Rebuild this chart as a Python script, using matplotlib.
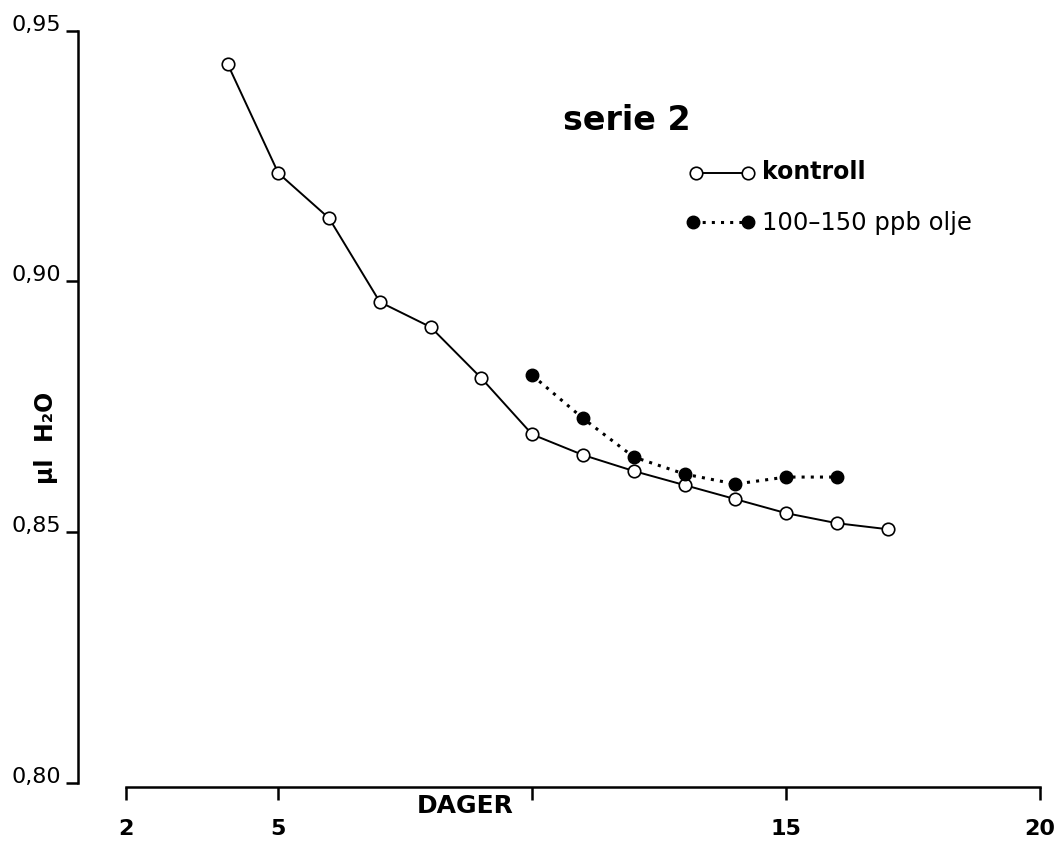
import matplotlib
matplotlib.use('Agg')
import matplotlib.pyplot as plt

# values (days, µl H2O)
dager_kontroll = [4, 5, 6, 7, 8, 9, 10, 11, 12, 13, 14, 15, 16, 17]
kontroll = [0.9434, 0.9216, 0.9126, 0.8959, 0.8909, 0.8807, 0.8695,
            0.8654, 0.8622, 0.8594, 0.8566, 0.8538, 0.8518, 0.8506]

dager_olje = [10, 11, 12, 13, 14, 15, 16]
olje = [0.8813, 0.8727, 0.8650, 0.8616, 0.8596, 0.8610, 0.8610]

xticks = [2, 5, 10, 15, 20]
xticklabels = ['2', '5', '', '15', '20']
yticks = [0.80, 0.85, 0.90, 0.95]
yticklabels = ['0,80', '0,85', '0,90', '0,95']

plt.rcParams['font.family'] = ['DejaVu Sans']

fig = plt.figure(figsize=(10.59, 8.41), dpi=100)
ax = fig.add_axes([78 / 1059, 54 / 841, 962 / 1059, 756.3 / 841])

# curves
ax.plot(dager_kontroll, kontroll, color='black', lw=1.4, marker='o', ms=9,
        mfc='white', mec='black', mew=1.2, clip_on=False, zorder=3)
ax.plot(dager_olje, olje, color='black', lw=2.2, ls=(0, (1, 2)),
        marker='o', ms=9, mfc='black', mec='black', clip_on=False, zorder=4)

ax.set_xlim(1.055, 20.0)
ax.set_ylim(0.7992, 0.95)

# axes styling
for s in ['top', 'right']:
    ax.spines[s].set_visible(False)
ax.spines['left'].set_linewidth(1.8)
ax.spines['bottom'].set_linewidth(1.8)
ax.spines['left'].set_bounds(0.80, 0.95)
ax.spines['bottom'].set_bounds(2, 20)

ax.set_xticks(xticks)
ax.set_xticklabels(xticklabels, fontweight='bold')
ax.set_yticks(yticks)
ax.set_yticklabels(yticklabels)
ax.tick_params(axis='x', direction='out', length=9, width=1.8, pad=14, labelsize=16)
ax.tick_params(axis='y', direction='out', length=9, width=1.8, pad=3, labelsize=16)
for lab in ax.get_yticklabels():
    lab.set_verticalalignment('baseline')

# axis titles
fig.text(465 / 1059, 1 - 806 / 841, 'DAGER', ha='center', va='center',
         fontsize=18, fontweight='bold')
fig.text(46 / 1059, 1 - 438 / 841, 'µl  H₂O', ha='center', va='center',
         rotation=90, fontsize=17, fontweight='bold')

# title and hand-drawn legend
ax.text(0.504, 0.8687, 'serie 2', transform=ax.transAxes, fontsize=24,
        fontweight='bold', va='baseline')
ax.plot([0.6424, 0.6965], [0.8118, 0.8118], transform=ax.transAxes,
        color='black', lw=1.4, marker='o', ms=9, mfc='white', mec='black',
        mew=1.2, clip_on=False)
ax.text(0.711, 0.8039, 'kontroll', transform=ax.transAxes, fontsize=17,
        fontweight='bold', va='baseline')
ax.plot([0.6393, 0.6965], [0.7471, 0.7471], transform=ax.transAxes,
        color='black', lw=2.2, ls=(0, (1, 2)), marker='o', ms=9,
        mfc='black', mec='black', clip_on=False)
ax.text(0.711, 0.7365, '100–150 ppb olje', transform=ax.transAxes,
        fontsize=17.5, va='baseline')

fig.savefig('out.png', dpi=100)
